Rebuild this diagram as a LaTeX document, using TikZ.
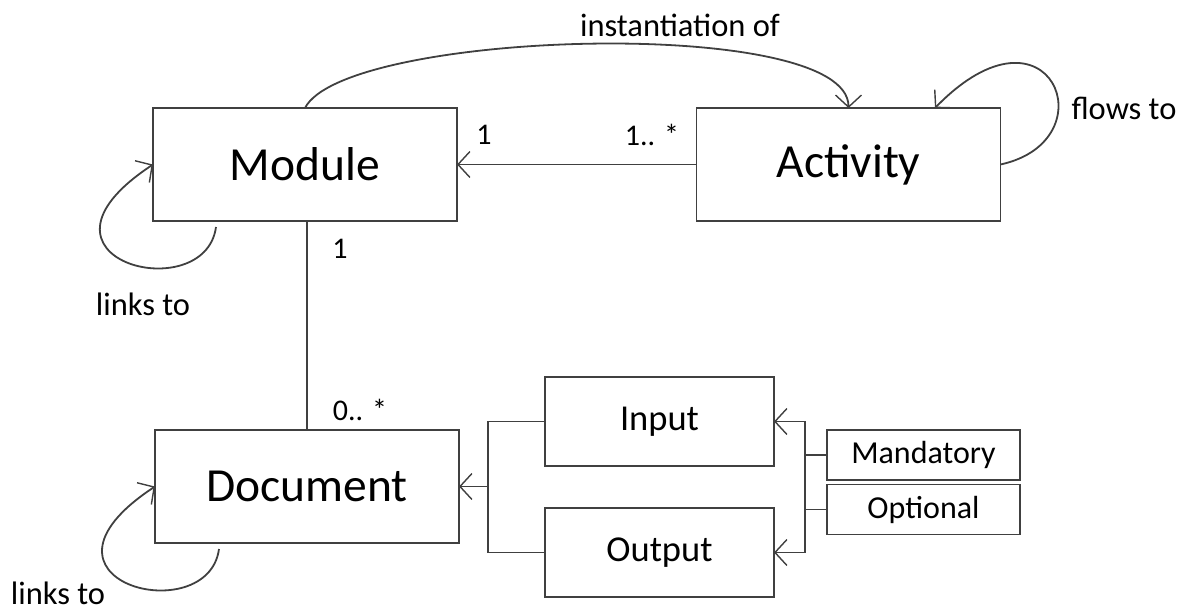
\documentclass[tikz,border=0pt]{standalone}
\usepackage{fontspec}
\setmainfont{Carlito}
\usetikzlibrary{arrows.meta}
\begin{document}
\begin{tikzpicture}[x=1pt,y=-1pt,
  line/.style={draw=black!75, line width=1.8pt},
  tip/.tip={Straight Barb[length=12pt,width=26pt,line width=1.4pt]},
  arr/.style={line,-tip},
  box/.style={draw=black!75, line width=1.8pt, fill=white, inner sep=0pt, outer sep=0pt},
  bigbox/.style={box, minimum width=304pt, minimum height=113pt, font=\fontsize{47.5}{56}\selectfont},
  midbox/.style={box, minimum width=229pt, minimum height=89pt, font=\fontsize{36.5}{44}\selectfont},
  tagbox/.style={box, minimum width=193pt, minimum height=50pt, font=\fontsize{32}{38}\selectfont},
  lbl/.style={font=\fontsize{32.5}{39}\selectfont, inner sep=0pt},
  mult/.style={font=\fontsize{30}{36}\selectfont, inner sep=0pt}
]
\useasboundingbox (0,0) rectangle (1185,612);

% classes
\node[bigbox] (mod) at (305,164.5) {Module};
\node[bigbox] (act) at (848.5,164.5) {Activity};
\node[bigbox] (doc) at (307,486.5) {Document};
\node[midbox] (inp) at (659.5,421.5) {Input};
\node[midbox] (out) at (659.5,552.5) {Output};
\node[tagbox] (man) at (923.5,455) {Mandatory};
\node[tagbox] (opt) at (923.5,509.5) {Optional};

% junction points
\coordinate (j) at (488,486.5);
\coordinate (k) at (805,487);

% associations
\draw[arr] (act.west) -- (mod.east);
\draw[line] ([xshift=2pt]mod.south) -- ([xshift=2pt]mod.south |- doc.north);
\draw[arr] (mod.north) .. controls +(40,-78) and +(0,-93) .. (act.north);

% self loops
\draw[arr] ([shift={(63,6)}]mod.south west) .. controls +(-11,82) and +(-144,95) .. (mod.west);
\draw[arr] ([shift={(64,6)}]doc.south west) .. controls +(-11,82) and +(-144,95) .. (doc.west);
\draw[arr] (act.east) .. controls +(110,-24) and +(115,-118) .. ([xshift=86.5pt]act.north);

% input / output to document
\draw[line] (inp.west) -| (j);
\draw[line] (out.west) -| (j);
\draw[arr] (j) -- (doc.east);

% mandatory / optional to input and output
\draw[line, tip-tip] (inp.east) -| (k) |- (out.east);
\draw[line] (man.west) -- (man.west -| k);
\draw[line] (opt.west) -- (opt.west -| k);

% labels
\node[lbl] (linst) at (680,25) {instantiation of};
\node[lbl] (lflow) at (1124,108) {flows to};
\node[lbl] (llink1) at (143,304) {links to};
\node[lbl, anchor=base] (llink2) at (58,604) {links to};
\node[mult] (m1) at (484,135) {1};
\node[mult] (m2) at (652,135) {1.. *};
\node[mult] (m3) at (340,249) {1};
\node[mult] (m4) at (360,410) {0.. *};
\end{tikzpicture}
\end{document}
